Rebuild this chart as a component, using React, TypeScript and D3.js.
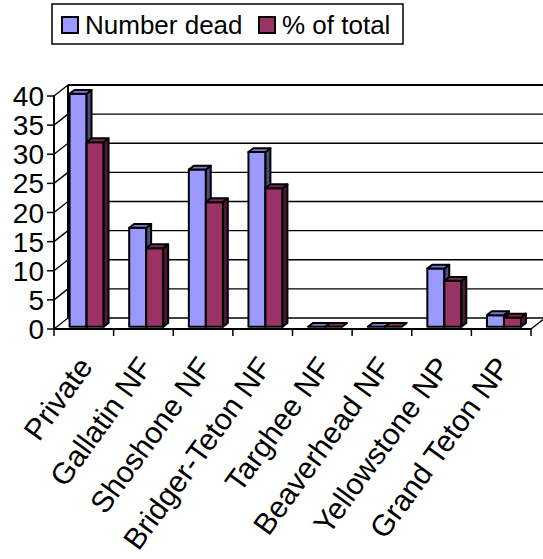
import React from "react";
import * as d3 from "d3";

const categories = [
  "Private",
  "Gallatin NF",
  "Shoshone NF",
  "Bridger-Teton NF",
  "Targhee NF",
  "Beaverhead NF",
  "Yellowstone NP",
  "Grand Teton NP",
];
const numberDead = [40, 17, 27, 30, 0, 0, 10, 2];
const pctOfTotal = [31.7, 13.5, 21.4, 23.8, 0, 0, 7.9, 1.6];
const seriesNames = ["Number dead", "% of total"];
const yTicks = [0, 5, 10, 15, 20, 25, 30, 35, 40];

const W = 543;
const H = 559;
const FONT = "'Liberation Sans', Arial, sans-serif";

const colors = [
  { front: "#9999FF", top: "#7a7acc", side: "#4d4d80" },
  { front: "#993366", top: "#7a2952", side: "#4d1a33" },
];

export default function App() {
  const x = d3.scaleBand<string>().domain(categories).range([54, 531]).padding(0);
  const inner = d3
    .scaleBand<string>()
    .domain(seriesNames)
    .range([0, x.bandwidth()])
    .paddingInner(0)
    .paddingOuter(0.75);
  const y = d3.scaleLinear().domain([0, 40]).range([329, 96]);
  const D = { x: 14, y: -11 };
  const f1 = 0.2;
  const f2 = 0.55;
  const x0 = 54;
  const x1 = 531;
  const y0 = y(0);
  const yTop = y(40);

  const series = [numberDead, pctOfTotal];

  const bars: React.ReactNode[] = [];
  categories.forEach((c, i) => {
    series.forEach((vals, s) => {
      const v = vals[i];
      const w = inner.bandwidth();
      const bx = (x(c) as number) + (inner(seriesNames[s]) as number) + f1 * D.x;
      const base = y0 + f1 * D.y;
      const top = y(v) + f1 * D.y;
      const dx = (f2 - f1) * D.x;
      const dy = (f2 - f1) * D.y;
      const col = colors[s];
      const pts = (a: number[][]) => a.map((p) => p.join(",")).join(" ");
      bars.push(
        <g key={`${c}-${s}`} stroke="#000" strokeWidth={2} strokeLinejoin="round">
          {v > 0 && <rect x={bx} y={top} width={w} height={base - top} fill={col.front} />}
          {v > 0 && (
            <polygon
              points={pts([
                [bx + w, top],
                [bx + w + dx, top + dy],
                [bx + w + dx, base + dy],
                [bx + w, base],
              ])}
              fill={col.side}
            />
          )}
          <polygon
            points={pts([
              [bx, top],
              [bx + w, top],
              [bx + w + dx, top + dy],
              [bx + dx, top + dy],
            ])}
            fill={col.top}
          />
        </g>
      );
    });
  });

  const catTicks = d3.range(categories.length + 1).map((i) => x0 + i * x.step());

  return (
    <svg
      width={W}
      height={H}
      style={{ position: "absolute", left: 0, top: 0, background: "#fff" }}
      fontFamily={FONT}
    >
      {/* back wall gridlines */}
      <g stroke="#000" strokeWidth={1.3}>
        {yTicks.map((t) => (
          <line key={`g${t}`} x1={x0 + D.x} x2={x1 + D.x + 20} y1={y(t) + D.y} y2={y(t) + D.y} />
        ))}
        {/* side wall diagonals */}
        {yTicks.map((t) => (
          <line key={`s${t}`} x1={x0} y1={y(t)} x2={x0 + D.x} y2={y(t) + D.y} />
        ))}
      </g>
      {/* back wall left edge & top */}
      <line x1={x0 + D.x} y1={yTop + D.y} x2={x0 + D.x} y2={y0 + D.y} stroke="#000" strokeWidth={2} />
      <line x1={x0 + D.x} y1={yTop + D.y} x2={W + 5} y2={yTop + D.y} stroke="#000" strokeWidth={2} />
      {/* floor right edge */}
      <line x1={x1} y1={y0} x2={x1 + D.x} y2={y0 + D.y} stroke="#000" strokeWidth={1.3} />
      {/* bars */}
      {bars}
      {/* front floor edge / axes */}
      <line x1={x0} y1={y0} x2={x1} y2={y0} stroke="#000" strokeWidth={2} />
      <line x1={x0} y1={y0} x2={x0} y2={yTop} stroke="#000" strokeWidth={2} />
      {/* y ticks */}
      {yTicks.map((t) => (
        <g key={`t${t}`}>
          <line x1={x0 - 7} x2={x0} y1={y(t)} y2={y(t)} stroke="#000" strokeWidth={1.5} />
          <text x={44} y={y(t) + 10} textAnchor="end" fontSize={28} fill="#000">
            {t}
          </text>
        </g>
      ))}
      {/* category ticks */}
      {catTicks.map((cx, i) => (
        <line key={`ct${i}`} x1={cx} x2={cx} y1={y0} y2={y0 + 7} stroke="#000" strokeWidth={1.5} />
      ))}
      {/* category labels */}
      {categories.map((c) => {
        const cx = (x(c) as number) + x.bandwidth() / 2 + 10;
        const cy = 367;
        return (
          <text
            key={`l${c}`}
            x={cx}
            y={cy}
            textAnchor="end"
            fontSize={30}
            fill="#000"
            transform={`rotate(-54 ${cx} ${cy})`}
          >
            {c}
          </text>
        );
      })}
      {/* legend */}
      <g>
        <rect x={52} y={4} width={351} height={40} fill="#fff" stroke="#000" strokeWidth={1.5} />
        <rect x={62} y={17} width={16} height={16} fill={colors[0].front} stroke="#000" strokeWidth={2} />
        <text x={85} y={34} fontSize={26} fill="#000">
          {seriesNames[0]}
        </text>
        <rect x={259} y={17} width={16} height={16} fill={colors[1].front} stroke="#000" strokeWidth={2} />
        <text x={282} y={34} fontSize={26} fill="#000">
          {seriesNames[1]}
        </text>
      </g>
    </svg>
  );
}
